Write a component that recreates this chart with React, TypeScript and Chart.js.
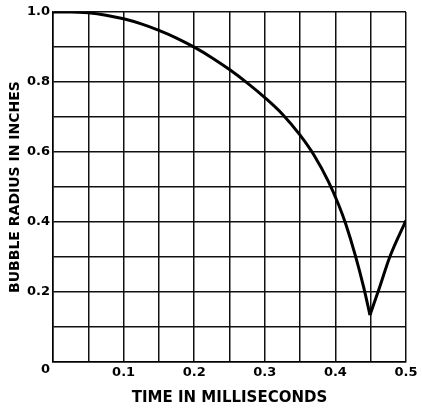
import React, { useEffect, useRef } from 'react';
import { Chart, registerables } from 'chart.js';

Chart.register(...registerables);

// Time in milliseconds (x) and bubble radius in inches (y)
const timeMs = [0, 0.025, 0.05, 0.075, 0.1, 0.125, 0.15, 0.175, 0.2, 0.225, 0.25, 0.275, 0.3, 0.325, 0.35, 0.37, 0.39, 0.405, 0.415, 0.428, 0.44, 0.449, 0.463, 0.477, 0.5];
const radiusIn = [1.0, 1.0, 0.9975, 0.991, 0.9805, 0.966, 0.9475, 0.9255, 0.8995, 0.8695, 0.8355, 0.7975, 0.7555, 0.708, 0.648, 0.59, 0.516, 0.447, 0.392, 0.306, 0.214, 0.134, 0.216, 0.3, 0.405];
// index of the collapse minimum, where the curve turns sharply
const collapseIndex = 21;

const xTitle = 'TIME IN MILLISECONDS';
const yTitle = 'BUBBLE RADIUS IN INCHES';
const xLabelled = ['0.1', '0.2', '0.3', '0.4', '0.5'];
const yLabelled = ['0.2', '0.4', '0.6', '0.8', '1.0'];

const FONT = '"DejaVu Sans", sans-serif';

export default function App() {
  const ref = useRef<HTMLCanvasElement | null>(null);

  useEffect(() => {
    document.body.style.margin = '0';
    const canvas = ref.current;
    if (!canvas) return;
    const points = timeMs.map((x, i) => ({ x, y: radiusIn[i] }));
    const lineStyle = {
      borderColor: '#000',
      borderWidth: 3,
      pointRadius: 0,
      fill: false,
      cubicInterpolationMode: 'monotone',
    };
    const chart = new Chart(canvas, {
      type: 'line',
      data: {
        datasets: [
          { ...lineStyle, data: points.slice(0, collapseIndex + 1) },
          { ...lineStyle, data: points.slice(collapseIndex) },
        ],
      },
      options: {
        animation: false,
        responsive: false,
        maintainAspectRatio: false,
        layout: { padding: { left: 0, right: 16, top: 12, bottom: 0 } },
        plugins: { legend: { display: false }, tooltip: { enabled: false } },
        scales: {
          x: {
            type: 'linear',
            min: 0,
            max: 0.5,
            afterFit: (s: any) => {
              s.height = 49;
            },
            ticks: {
              stepSize: 0.05,
              autoSkip: false,
              maxRotation: 0,
              padding: 3,
              color: '#000',
              font: { family: FONT, size: 13, weight: 'bold' },
              callback: (v: any) => {
                const lbl = Number(v).toFixed(1);
                const k = Math.round(Number(v) * 100);
                if (k === 0 || k % 10 !== 0) return '';
                return xLabelled.includes(lbl) ? lbl : '';
              },
            },
            grid: { color: '#111', lineWidth: 1.5, drawTicks: false },
            border: { color: '#000', width: 1.5 },
            title: {
              display: true,
              text: xTitle,
              color: '#000',
              font: { family: FONT, size: 15, weight: 'bold' },
              padding: { top: 0, bottom: 3.5 },
            },
          },
          y: {
            type: 'linear',
            min: 0,
            max: 1.0,
            afterFit: (s: any) => {
              s.width = 53;
            },
            ticks: {
              stepSize: 0.1,
              autoSkip: false,
              padding: 3,
              color: '#000',
              font: { family: FONT, size: 13, weight: 'bold' },
              callback: (v: any) => {
                const k = Math.round(Number(v) * 10);
                if (k === 0) return ['', '0'];
                const lbl = Number(v).toFixed(1);
                return yLabelled.includes(lbl) ? lbl : '';
              },
            },
            grid: { color: '#111', lineWidth: 1.5, drawTicks: false },
            border: { color: '#000', width: 1.5 },
            title: {
              display: true,
              text: yTitle,
              color: '#000',
              font: { family: FONT, size: 14, weight: 'bold' },
              padding: { top: 7, bottom: 0 },
            },
          },
        },
      },
    } as any);
    return () => chart.destroy();
  }, []);

  return <canvas ref={ref} width={422} height={411} style={{ display: 'block' }} />;
}
